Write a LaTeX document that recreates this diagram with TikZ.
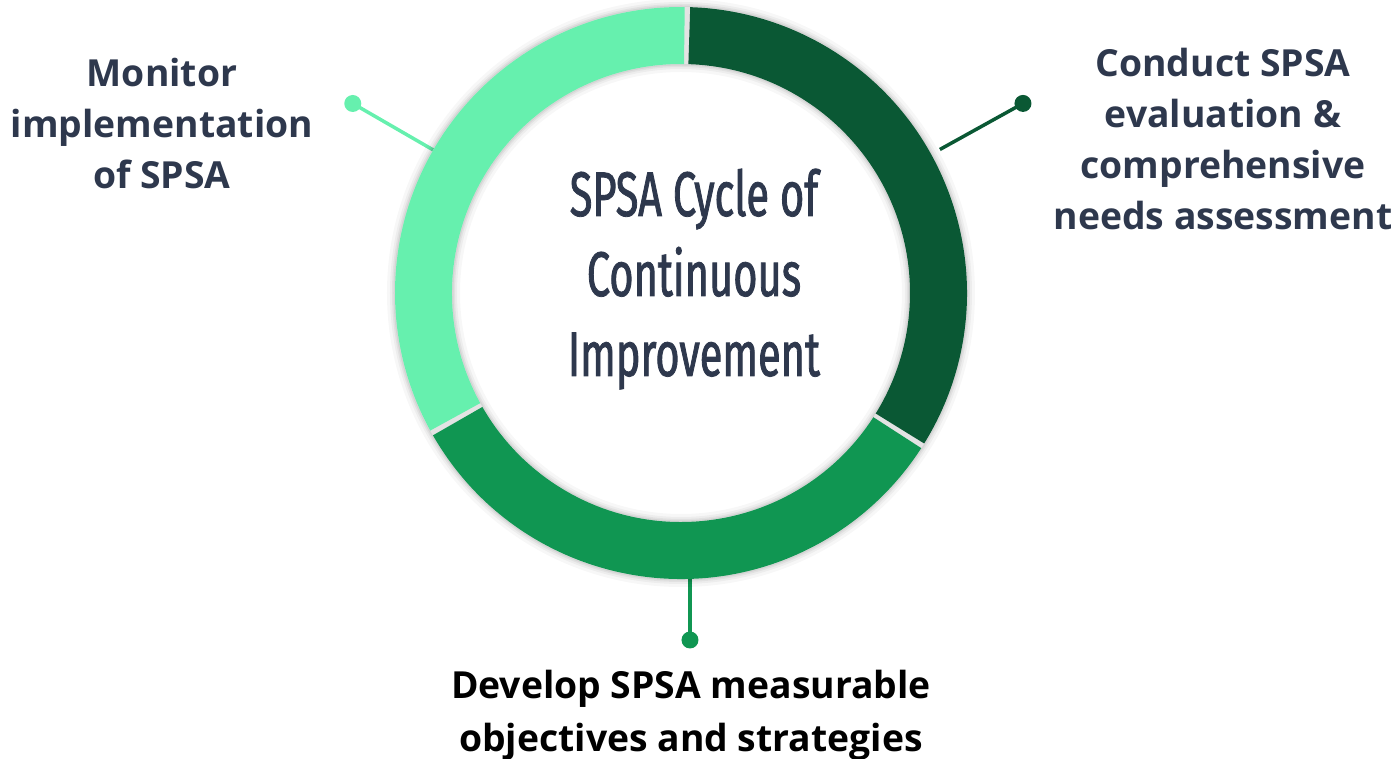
\documentclass[tikz,border=0pt]{standalone}
\usepackage{fontspec}
\setmainfont{Open Sans}
\newfontfamily\titlefont[FakeStretch=0.66,FakeBold=1.3]{Fira Sans}
\definecolor{lightg}{HTML}{66F0AE}
\definecolor{darkg}{HTML}{0A5834}
\definecolor{medg}{HTML}{109652}
\definecolor{textc}{HTML}{2E384D}
\tikzset{
  x=1pt, y=1pt,
  dotnode/.style={circle, fill=#1, minimum size=17pt, inner sep=0pt},
  connector/.style={draw=#1, line width=3.5pt},
  labeltext/.style={align=center, inner sep=0pt, anchor=base, font=\bfseries\fontsize{37.3}{51}\selectfont, text=textc},
  titletext/.style={align=center, inner sep=0pt, anchor=base, font=\titlefont\fontsize{63}{80}\selectfont, text=textc},
}
\newcommand{\sector}[3]{% color, start, end
  \fill[#1] (#2:286) arc[start angle=#2, end angle=#3, radius=286] -- (#3:229) arc[start angle=#3, end angle=#2, radius=229] -- cycle;}
\begin{document}
\begin{tikzpicture}
\useasboundingbox (-681,-466) rectangle (717,293);
\coordinate (c) at (0,0);
% connectors (drawn under ring)
\node[dotnode=lightg] (dl) at (150:379) {};
\coordinate (el) at (150:270);
\draw[connector=lightg] (dl.center) -- (el);
\node[dotnode=darkg] (dr) at (29:391) {};
\coordinate (er) at (29:296);
\draw[connector=darkg] (dr.center) -- (er);
\node[dotnode=medg] (db) at (9,-347) {};
\coordinate (eb) at (9,-270);
\draw[connector=medg] (db.center) -- (eb);
% shadow
\foreach \w/\o in {8/0.03,5/0.04,3/0.05,1.5/0.06}{
  \fill[black, opacity=\o, even odd rule] (c) circle[radius=286+\w] (c) circle[radius=229-\w];
}
\fill[gray!22, even odd rule] (c) circle[radius=286] (c) circle[radius=229];
% ring
\sector{darkg}{-31.75}{88.15}
\sector{lightg}{89.25}{208.75}
\sector{medg}{209.85}{327.15}
% title
\node[titletext] (title) at (13,-83) {SPSA Cycle of\\Continuous\\Improvement};
% labels
\node[labeltext] (lbl) at (-519,104) {Monitor\\implementation\\of SPSA};
\node[labeltext] (lbr) at (542,63) {Conduct SPSA\\evaluation \&\\comprehensive\\needs assessment};
\node[labeltext, text=black, font=\bfseries\fontsize{37.3}{53}\selectfont] (lbb) at (10,-459) {Develop SPSA measurable\\objectives and strategies};
\end{tikzpicture}
\end{document}
